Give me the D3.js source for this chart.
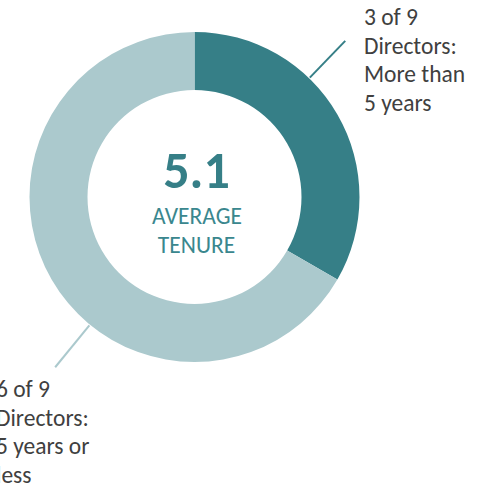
<!DOCTYPE html>
<html><head><meta charset="utf-8">
<script src="https://cdn.jsdelivr.net/npm/d3@7"></script>
<style>
html,body{margin:0;padding:0;background:#fff;overflow:hidden;}
svg{display:block;}
text{font-family:Carlito,Calibri,Lato,"Open Sans",sans-serif;}
</style></head>
<body>
<svg id="chart" width="484" height="487"></svg>
<script>
const categories = ["More than 5 years", "5 years or less"];
const values = [3, 6];
const totalDirectors = 9;
const averageTenure = 5.1;
const labelLines = [
  ["3 of 9", "Directors:", "More than", "5 years"],
  ["6 of 9", "Directors:", "5 years or", "less"]
];
const colors = ["#367f87", "#abc9cd"];

const svg = d3.select("#chart");
const cx = 194.5, cy = 197, rOuter = 165, rInner = 107;
const g = svg.append("g").attr("transform", `translate(${cx},${cy})`);

const pie = d3.pie().sort(null).value(d => d)(values);
const arc = d3.arc().innerRadius(rInner).outerRadius(rOuter);

g.selectAll("path.slice").data(pie).join("path")
  .attr("class", "slice")
  .attr("d", arc)
  .attr("fill", (d, i) => colors[i]);

// leader lines
const leaderAngles = [44, 219.3];
const leaderEnd = [217, 220];
leaderAngles.forEach((a, i) => {
  const rad = a * Math.PI / 180;
  g.append("line")
    .attr("x1", Math.sin(rad) * (rOuter + 1)).attr("y1", -Math.cos(rad) * (rOuter + 1))
    .attr("x2", Math.sin(rad) * leaderEnd[i]).attr("y2", -Math.cos(rad) * leaderEnd[i])
    .attr("stroke", colors[i]).attr("stroke-width", 2);
});

// labels
const labelPos = [{x: 364, y: 25}, {x: -4, y: 397}];
const lineH = 28.7;
labelLines.forEach((lines, i) => {
  const t = svg.append("text")
    .attr("x", labelPos[i].x).attr("y", labelPos[i].y)
    .attr("fill", "#404040").attr("font-size", 23.5);
  lines.forEach((l, j) => {
    t.append("tspan").attr("x", labelPos[i].x).attr("y", labelPos[i].y + j * lineH).text(l);
  });
});

// center text
g.append("text").attr("text-anchor", "middle").attr("x", 2).attr("y", -9)
  .attr("font-size", 52).attr("font-weight", "bold").attr("fill", colors[0])
  .text(d3.format(".1f")(averageTenure));
g.append("text").attr("text-anchor", "middle").attr("x", 2.5).attr("y", 27)
  .attr("font-size", 23.5).attr("fill", "#3a878e").text("AVERAGE");
g.append("text").attr("text-anchor", "middle").attr("x", 2).attr("y", 56)
  .attr("font-size", 23.5).attr("fill", "#3a878e").text("TENURE");
</script>
</body></html>
